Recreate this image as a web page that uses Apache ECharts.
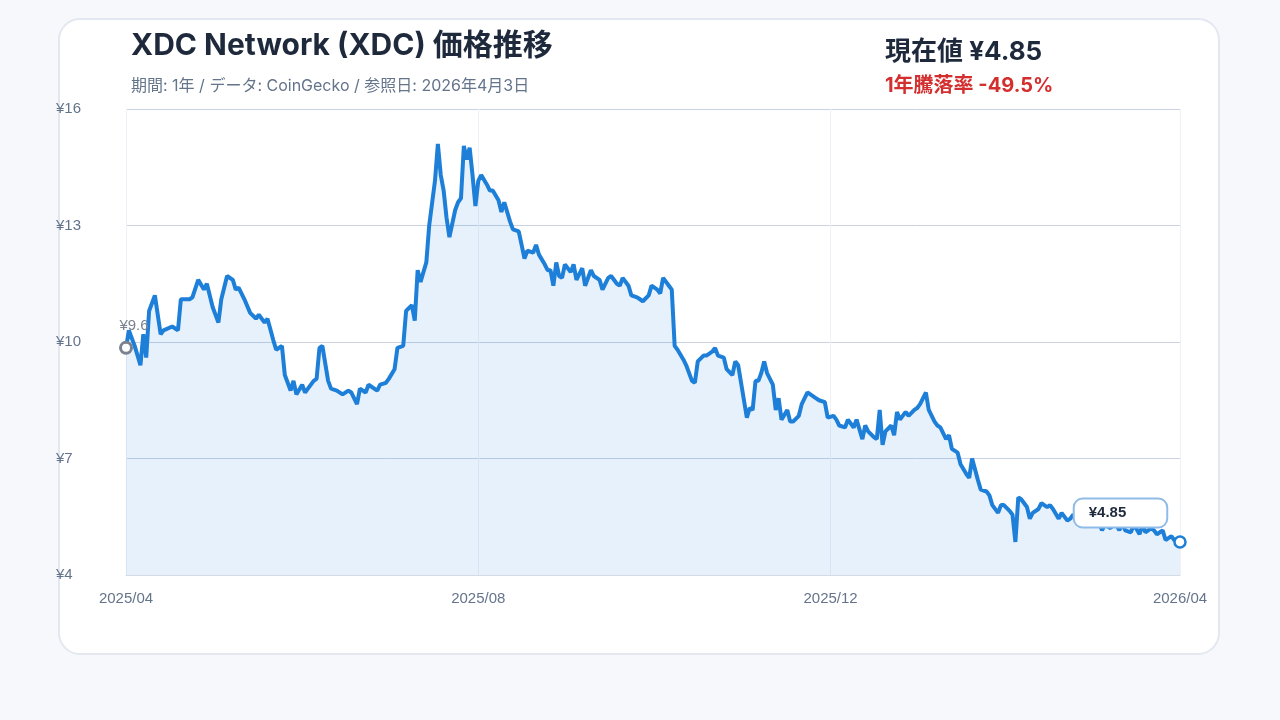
<!DOCTYPE html>
<html><head><meta charset="utf-8">
<script src="https://cdn.jsdelivr.net/npm/echarts@6/dist/echarts.min.js"></script>
<style>
html,body{margin:0;padding:0;background:#f6f8fc;font-family:Inter,"Noto Sans CJK JP",sans-serif;}
#card{position:absolute;left:58px;top:18px;width:1162px;height:637px;background:#fff;border:2px solid #e3e8f0;border-radius:22px;box-sizing:border-box;}
#chart{position:absolute;left:0;top:0;width:1280px;height:720px;}
</style></head><body>
<div id="card"></div>
<div id="chart"></div>
<script>
const titleText = 'XDC Network (XDC) 価格推移';
const subText = '期間: 1年 / データ: CoinGecko / 参照日: 2026年4月3日';
const currentText = '現在値 ¥4.85';
const changeText = '1年騰落率 -49.5%';
const startLabel = '¥9.6';
const endLabel = '¥4.85';
const yTicks = [4, 7, 10, 13, 16];
const xTickDates = ['2025-04-01', '2025-08-01', '2025-12-01', '2026-04-01'];
const baseDate = '2025-04-01';
const dayOffsets = [0,1,3,5,6,7,8,10,12,13,16,18,19,20,22,23,25,27,28,30,32,33,35,37,38,39,41,43,45,46,48,49,51,52,54,55,57,58,59,61,62,63,65,66,67,68,70,71,73,75,77,78,80,81,83,84,87,88,90,91,93,94,96,97,99,100,101,102,104,105,107,108,109,110,111,112,114,115,116,117,118,119,120,121,122,123,125,126,127,129,130,131,133,134,136,137,138,139,141,142,143,145,146,147,148,149,150,151,152,154,155,156,158,159,161,162,164,165,167,168,170,171,172,174,175,177,178,179,181,182,184,185,186,188,189,190,191,193,194,196,197,198,200,201,203,204,205,207,208,210,211,212,214,215,216,217,218,219,220,221,222,224,225,226,227,229,230,231,233,234,236,237,239,240,242,243,245,246,247,249,250,252,253,255,256,257,259,260,261,262,263,265,266,267,268,270,271,273,274,275,277,278,280,281,282,284,285,286,288,289,291,292,293,295,296,298,299,300,302,303,304,306,307,308,309,310,312,313,314,316,317,319,320,321,323,324,326,327,328,330,331,333,334,335,337,338,339,341,342,344,345,346,348,349,351,352,353,355,356,357,359,360,362,363,365];
const prices = [9.85,10.3,9.9,9.4,10.2,9.6,10.8,11.2,10.2,10.3,10.4,10.3,11.1,11.1,11.1,11.15,11.6,11.35,11.5,10.9,10.5,11.1,11.7,11.6,11.35,11.4,11.1,10.75,10.6,10.7,10.5,10.6,10.05,9.8,9.9,9.15,8.75,9.0,8.65,8.9,8.7,8.8,9.0,9.05,9.85,9.9,9.0,8.8,8.75,8.65,8.75,8.7,8.4,8.8,8.7,8.9,8.75,8.9,8.95,9.05,9.3,9.85,9.9,10.8,10.95,10.55,11.85,11.55,12.05,13.0,14.15,15.1,14.3,13.9,13.2,12.7,13.4,13.6,13.7,15.05,14.7,15.0,14.3,13.5,14.15,14.3,14.05,13.9,13.9,13.65,13.35,13.6,13.1,12.9,12.85,12.5,12.15,12.35,12.3,12.5,12.25,12.0,11.85,11.85,11.45,12.05,11.7,11.65,12.0,11.8,12.0,11.6,11.9,11.45,11.85,11.7,11.6,11.35,11.65,11.7,11.5,11.45,11.65,11.45,11.2,11.15,11.1,11.05,11.2,11.45,11.35,11.25,11.65,11.45,11.35,9.9,9.8,9.55,9.4,9.0,8.95,9.5,9.65,9.65,9.75,9.85,9.65,9.6,9.3,9.15,9.5,9.4,8.5,8.05,8.3,8.25,9.0,9.0,9.2,9.5,9.2,8.9,8.25,8.55,8.0,8.25,7.95,7.95,8.1,8.4,8.7,8.65,8.55,8.5,8.45,8.05,8.1,8.0,7.85,7.8,8.0,7.8,8.0,7.5,7.85,7.7,7.55,7.5,8.25,7.35,7.7,7.85,7.6,8.2,8.0,8.2,8.1,8.25,8.3,8.4,8.7,8.25,7.95,7.85,7.8,7.5,7.6,7.25,7.15,6.85,6.6,6.5,7.0,6.45,6.2,6.15,6.05,5.8,5.6,5.8,5.8,5.65,5.55,4.85,6.0,5.95,5.75,5.45,5.6,5.7,5.85,5.75,5.8,5.7,5.45,5.6,5.4,5.45,5.55,5.45,5.3,5.5,5.4,5.3,5.35,5.15,5.3,5.2,5.4,5.15,5.35,5.15,5.1,5.3,5.05,5.3,5.1,5.2,5.15,5.05,5.15,4.9,5.0,4.9,4.85];

function ts(s){const p=s.split('-').map(Number);return new Date(p[0],p[1]-1,p[2]).getTime();}
const base=ts(baseDate);
const data=dayOffsets.map((d,i)=>{const dt=new Date(base);dt.setDate(dt.getDate()+d);return [dt.getTime(),prices[i]];});
const tickTs=xTickDates.map(ts);
const first=data[0], last=data[data.length-1];
const F='Inter, "Noto Sans CJK JP"';
const chart=echarts.init(document.getElementById('chart'));
chart.setOption({
  animation:false,
  title:[
    {text:titleText,left:126,top:26,textStyle:{fontSize:30,fontWeight:'bold',color:'#1e293b',fontFamily:F}},
    {text:subText,left:126,top:73,textStyle:{fontSize:16,fontWeight:'normal',color:'#64748b',fontFamily:F}},
    {text:currentText,left:880,top:34,textStyle:{fontSize:26,fontWeight:'bold',color:'#1e293b',fontFamily:F}},
    {text:changeText,left:880,top:71,textStyle:{fontSize:20,fontWeight:'bold',color:'#d32f2f',fontFamily:F}}
  ],
  grid:{left:126,right:100,top:109,bottom:145},
  xAxis:{type:'value',min:tickTs[0],max:tickTs[tickTs.length-1],
    axisLine:{lineStyle:{color:'#d5dbe4'}},
    axisTick:{show:false,customValues:tickTs},
    axisLabel:{customValues:tickTs,color:'#64748b',fontSize:15,margin:16,
      formatter:v=>{const d=new Date(v);return d.getFullYear()+'/'+String(d.getMonth()+1).padStart(2,'0');}},
    splitLine:{show:true,lineStyle:{color:'#eef1f6',width:1}}},
  yAxis:{type:'value',min:yTicks[0],max:yTicks[yTicks.length-1],interval:3,
    axisLine:{show:false},axisTick:{show:false},
    axisLabel:{color:'#64748b',fontSize:15,align:'left',margin:70,formatter:v=>'¥'+v},
    splitLine:{lineStyle:{color:'#c9d3e3',width:1}}},
  series:[{type:'line',data:data,showSymbol:false,smooth:false,
    lineStyle:{color:'#1e7fd8',width:4},itemStyle:{color:'#1e7fd8'},
    areaStyle:{color:'rgba(30,127,216,0.15)'},
    markPoint:{symbol:'circle',symbolSize:11,data:[
      {coord:first,itemStyle:{color:'#fff',borderColor:'#7a8291',borderWidth:3},
        label:{show:true,formatter:startLabel,position:'top',offset:[8,-2],color:'#7a8291',fontSize:15}},
      {coord:last,itemStyle:{color:'#fff',borderColor:'#1e7fd8',borderWidth:2.5},
        label:{show:true,formatter:endLabel,position:'left',offset:[-2,-29],color:'#1e293b',fontSize:15,fontWeight:'bold',
          backgroundColor:'#fff',borderColor:'#8fbbe8',borderWidth:2,borderRadius:8,padding:[6,40,6,14]}}
    ]}
  }]
});
</script></body></html>
